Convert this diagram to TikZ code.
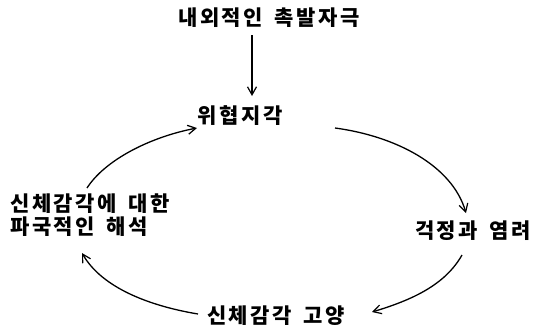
\documentclass[tikz,border=0pt]{standalone}
\usepackage{fontspec}
\newfontfamily\kr{Noto Sans CJK KR}[BoldFont={Noto Sans CJK KR Black}, LetterSpace=12, WordSpace=1.6]
\usetikzlibrary{arrows.meta}
\begin{document}
\begin{tikzpicture}[x=1pt,y=-1pt,
  lbl/.style={font=\kr\bfseries\fontsize{21}{23}\selectfont, inner sep=0pt},
  arr/.style={line width=1.3pt, -{Straight Barb[length=8pt,width=9pt,line width=1.2pt]}}]
\useasboundingbox (0,0) rectangle (537,333);
\node[lbl] (title) at (269,18) {내외적인 촉발자극};
\node[lbl] (threat) at (240,116) {위협지각};
\node[lbl] (worry) at (473,231) {걱정과 염려};
\node[lbl] (body) at (276,316) {신체감각 고양};
\node[lbl, align=left, anchor=west] (interp) at (10,215) {신체감각에 대한\\파국적인 해석};
% connector end points
\coordinate (a1) at (252,35);
\coordinate (a2) at (252,96);
\coordinate (b1) at (87,188);
\coordinate (b2) at (197,128);
\coordinate (c1) at (335,128);
\coordinate (c2) at (466,213);
\coordinate (d1) at (462,255);
\coordinate (d2) at (372,312);
\coordinate (e1) at (198,314);
\coordinate (e2) at (82,253);
\draw[arr] (a1) -- (a2);
\draw[arr] (b1) .. controls (105,160) and (150,137) .. (b2);
\draw[arr] (c1) .. controls (395,136) and (452,165) .. (c2);
\draw[arr] (d1) .. controls (445,285) and (412,300) .. (d2);
\draw[arr] (e1) .. controls (150,306) and (102,288) .. (e2);
\end{tikzpicture}
\end{document}
